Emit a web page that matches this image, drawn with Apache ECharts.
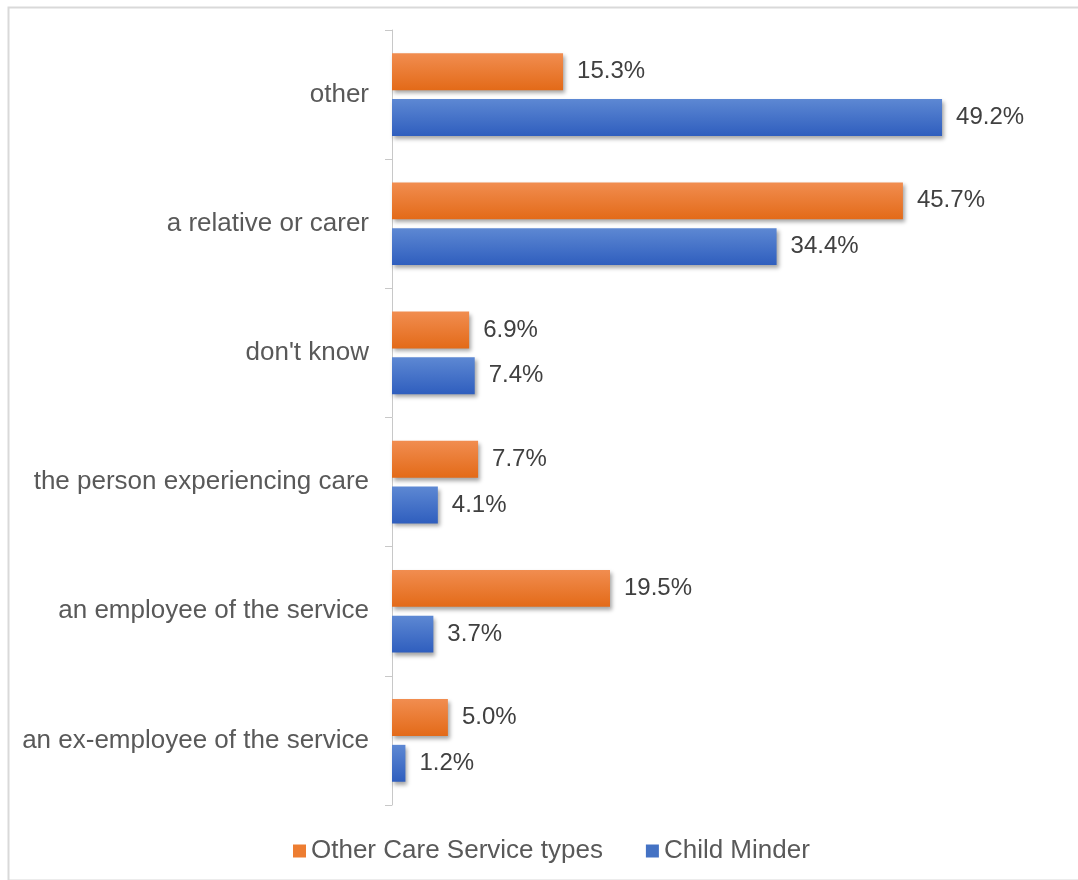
<!DOCTYPE html>
<html>
<head>
<meta charset="utf-8">
<script src="https://cdn.jsdelivr.net/npm/echarts@6/dist/echarts.min.js"></script>
<style>
html,body{margin:0;padding:0;background:#fff;}
#chart{width:1078px;height:880px;}
</style>
</head>
<body>
<div id="chart"></div>
<script>
// Categories listed bottom to top
const categories = [
  "an ex-employee of the service",
  "an employee of the service",
  "the person experiencing care",
  "don't know",
  "a relative or carer",
  "other"
];
const otherCareValues = [5.0, 19.5, 7.7, 6.9, 45.7, 15.3];
const childMinderValues = [1.2, 3.7, 4.1, 7.4, 34.4, 49.2];
const seriesNames = ["Other Care Service types", "Child Minder"];

const chart = echarts.init(document.getElementById('chart'), null, {renderer: 'canvas'});

const orangeGrad = new echarts.graphic.LinearGradient(0, 0, 0, 1, [
  {offset: 0, color: '#f18d50'}, {offset: 1, color: '#e36a18'}
]);
const blueGrad = new echarts.graphic.LinearGradient(0, 0, 0, 1, [
  {offset: 0, color: '#5d88d3'}, {offset: 1, color: '#2f5ebe'}
]);

const labelCfg = {
  show: true,
  position: 'right',
  distance: 14,
  color: '#404040',
  fontSize: 24,
  fontFamily: 'Liberation Sans, Arial, sans-serif',
  formatter: p => p.value.toFixed(1) + '%'
};
const shadow = {shadowColor: 'rgba(0,0,0,0.35)', shadowBlur: 4, shadowOffsetX: 2, shadowOffsetY: 3};

chart.setOption({
  backgroundColor: '#fff',
  animation: false,
  graphic: [{
    type: 'rect', left: 6, top: 5,
    shape: {width: 1200, height: 873},
    style: {fill: 'none', stroke: '#d9d9d9', lineWidth: 2},
    silent: true, z: -1
  }],
  grid: {left: 392, right: 127, top: 30, bottom: 75, containLabel: false},
  legend: {
    data: [
      {name: seriesNames[0], itemStyle: {color: '#ed7d31'}},
      {name: seriesNames[1], itemStyle: {color: '#4472c4'}}
    ],
    top: 833,
    left: 288,
    itemWidth: 13, itemHeight: 13, itemGap: 43,
    icon: 'rect',
    textStyle: {fontSize: 26, color: '#595959', fontFamily: 'Liberation Sans, Arial, sans-serif'}
  },
  xAxis: {
    type: 'value', min: 0, max: 50, show: false,
    splitLine: {show: false}
  },
  yAxis: {
    type: 'category',
    data: categories,
    axisLine: {show: true, lineStyle: {color: '#c8c8c8', width: 1}},
    axisTick: {show: true, length: 7, lineStyle: {color: '#c8c8c8'}},
    axisLabel: {fontSize: 26, color: '#595959', margin: 23, fontFamily: 'Liberation Sans, Arial, sans-serif'}
  },
  series: [
    {
      name: seriesNames[0], type: 'bar', data: otherCareValues,
      barCategoryGap: '36%', barGap: '24%',
      itemStyle: Object.assign({color: orangeGrad}, shadow),
      label: labelCfg
    },
    {
      name: seriesNames[1], type: 'bar', data: childMinderValues,
      barCategoryGap: '36%', barGap: '24%',
      itemStyle: Object.assign({color: blueGrad}, shadow),
      label: labelCfg
    }
  ]
});
</script>
</body>
</html>
